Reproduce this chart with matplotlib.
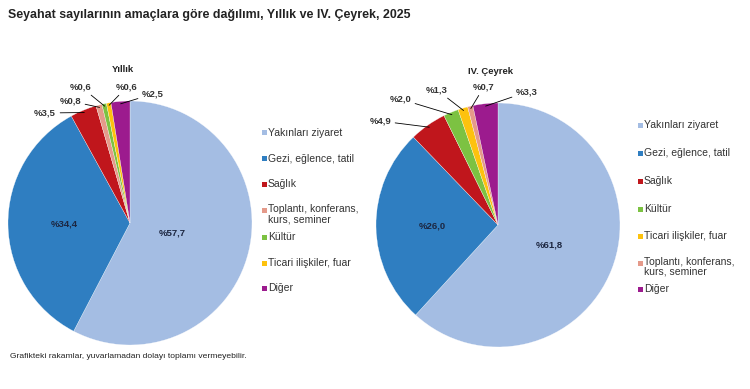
import numpy as np
import matplotlib.pyplot as plt
from matplotlib.patches import Rectangle

plt.rcParams['font.family'] = ['Liberation Sans', 'DejaVu Sans']

# data
yillik_labels = ["Yakınları ziyaret", "Gezi, eğlence, tatil", "Sağlık",
                 "Toplantı, konferans,\nkurs, seminer", "Kültür",
                 "Ticari ilişkiler, fuar", "Diğer"]
yillik_values = [57.7, 34.4, 3.5, 0.8, 0.6, 0.6, 2.5]

ceyrek_labels = ["Yakınları ziyaret", "Gezi, eğlence, tatil", "Sağlık", "Kültür",
                 "Ticari ilişkiler, fuar", "Toplantı, konferans,\nkurs, seminer", "Diğer"]
ceyrek_values = [61.8, 26.0, 4.9, 2.0, 1.3, 0.7, 3.3]

colors = {
    "Yakınları ziyaret": "#a4bde3",
    "Gezi, eğlence, tatil": "#2f7ec1",
    "Sağlık": "#c0161c",
    "Toplantı, konferans,\nkurs, seminer": "#e59a8a",
    "Kültür": "#7cc242",
    "Ticari ilişkiler, fuar": "#fdc20e",
    "Diğer": "#9c1b8e",
}

W, H = 750, 389
fig = plt.figure(figsize=(7.5, 3.89), dpi=100)


def fx(x):
    return x / W


def fy(y):
    return 1 - y / H


def pct(v):
    return "%" + f"{v:.1f}".replace(".", ",")


def draw_pie(cx, cy, r, labels, values, inner_r, outside_pos, title, title_xy,
             leg_x, leg_y):
    ax = fig.add_axes([fx(cx - r), fy(cy + r), 2 * r / W, 2 * r / H])
    wedges, _ = ax.pie(values, colors=[colors[l] for l in labels], startangle=90,
                       counterclock=False, radius=1.0,
                       wedgeprops=dict(linewidth=0.2, edgecolor="white"))
    ax.set_xlim(-1, 1)
    ax.set_ylim(-1, 1)
    ax.axis("off")
    for i, w in enumerate(wedges):
        ang = np.deg2rad((w.theta1 + w.theta2) / 2)
        if i in inner_r:
            rr = inner_r[i]
            ax.text(rr * np.cos(ang), rr * np.sin(ang), pct(values[i]),
                    ha="center", va="center", fontsize=6.8, fontweight="bold",
                    color="#1c2640")
        else:
            tx, ty, ha = outside_pos[i]
            ax.annotate(pct(values[i]), xy=(0.98 * np.cos(ang), 0.98 * np.sin(ang)),
                        xytext=(fx(tx), fy(ty)), textcoords="figure fraction",
                        ha=ha, va="center", fontsize=6.8, fontweight="bold",
                        color="#333333",
                        arrowprops=dict(arrowstyle="-", color="black", lw=0.6,
                                        shrinkA=1, shrinkB=0))
    fig.text(fx(title_xy[0]), fy(title_xy[1]), title, ha="center", va="center",
             fontsize=6.8, fontweight="bold", color="#222222")
    for lab, y in zip(labels, leg_y):
        fig.add_artist(Rectangle((fx(leg_x), fy(y + 2.5)), 5 / W, 5 / H,
                                 transform=fig.transFigure,
                                 facecolor=colors[lab], edgecolor="none"))
        if "\n" in lab:
            fig.text(fx(leg_x + 6), fy(y - 6), lab, ha="left", va="top",
                     fontsize=7.5, color="#333333", linespacing=1.0)
        else:
            fig.text(fx(leg_x + 6), fy(y), lab, ha="left", va="center",
                     fontsize=7.5, color="#333333")


draw_pie(130, 223, 122, yillik_labels, yillik_values, {0: 0.36, 1: 0.54},
         {2: (56, 113, "right"), 3: (81, 101, "right"), 4: (92, 87, "right"),
          5: (116, 87, "left"), 6: (142, 94, "left")},
         "Yıllık", (123, 70), 262, [133, 159, 184, 210, 237, 263, 288])

draw_pie(498, 225, 122, ceyrek_labels, ceyrek_values, {0: 0.45, 1: 0.54},
         {2: (391, 121, "right"), 3: (411, 99, "right"), 4: (448, 90, "right"),
          5: (473, 87, "left"), 6: (516, 92, "left")},
         "IV. Çeyrek", (491, 71), 638, [125, 153, 181, 209, 236, 263, 289])

fig.text(fx(8), fy(15), "Seyahat sayılarının amaçlara göre dağılımı, Yıllık ve IV. Çeyrek, 2025",
         ha="left", va="center", fontsize=8.9, fontweight="bold", color="#222222")
fig.text(fx(10), fy(356), "Grafikteki rakamlar, yuvarlamadan dolayı toplamı vermeyebilir.",
         ha="left", va="center", fontsize=6.1, color="#222222")

fig.savefig("out.png", dpi=100, facecolor="white")
